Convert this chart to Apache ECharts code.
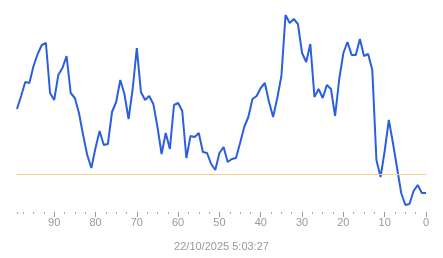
<!DOCTYPE html>
<html>
<head>
<meta charset="utf-8">
<script src="https://cdn.jsdelivr.net/npm/echarts@6/dist/echarts.min.js"></script>
<style>html,body{margin:0;padding:0;background:#fff}#c{width:443px;height:258px}</style>
</head>
<body>
<div id="c"></div>
<script>
// x positions (k = 99 ... 0)
const xValues = [99,98,97,96,95,94,93,92,91,90,89,88,87,86,85,84,83,82,81,80,79,78,77,76,75,74,73,72,71,70,69,68,67,66,65,64,63,62,61,60,59,58,57,56,55,54,53,52,51,50,49,48,47,46,45,44,43,42,41,40,39,38,37,36,35,34,33,32,31,30,29,28,27,26,25,24,23,22,21,20,19,18,17,16,15,14,13,12,11,10,9,8,7,6,5,4,3,2,1,0];
// series values (same order as xValues)
const seriesValues = [51.5,58,65,64.5,73,79,83.5,84.5,59.5,56,68.5,72,78,59.5,57,49.5,38.5,28.5,22,32,40.5,33.5,34,50,55,66,59,46.5,61.5,82,60,56,58,54,42.5,29,39.5,31.5,53.5,54.5,50.5,27,38,37.5,39.5,30,29.5,24,21,29.5,32.5,25,26.5,27,34.5,42.5,47.5,56.5,58,62,64.5,55,47.5,57,68,98.5,94.5,96.5,94,79.5,75,84,57.5,61.5,57,63.5,61.5,48,66.5,79.5,85,78.5,78.5,86.5,78,79,71,26,17.5,30.5,46,34.5,22,9.5,3.5,4,10.5,13.5,9.5,9.5];
const thresholdValue = 19;
const majorTickValues = [0,10,20,30,40,50,60,70,80,90];
const minorTickValues = [2.5,5,7.5,12.5,15,17.5,22.5,25,27.5,32.5,35,37.5,42.5,45,47.5,52.5,55,57.5,62.5,65,67.5,72.5,75,77.5,82.5,85,87.5,92.5,95,97.5,99];
const timestampLabel = '22/10/2025 5:03:27';

const chart = echarts.init(document.getElementById('c'), null, {renderer: 'canvas'});
const data = xValues.map((x, i) => [x, seriesValues[i]]);
chart.setOption({
  animation: false,
  grid: {left: 17, right: 17, top: 12, bottom: 46},
  xAxis: [
    {
      type: 'value', min: 0, max: 99, inverse: true, position: 'bottom',
      axisLine: {show: false}, splitLine: {show: false},
      axisTick: {show: true, length: 2, lineStyle: {color: '#aaa', width: 1}, customValues: minorTickValues},
      axisLabel: {show: false}
    },
    {
      type: 'value', min: 0, max: 99, inverse: true, position: 'bottom',
      axisLine: {show: false}, splitLine: {show: false},
      axisTick: {show: true, length: 5, lineStyle: {color: '#999', width: 1}, customValues: majorTickValues},
      axisLabel: {show: true, color: '#999', fontSize: 11, fontFamily: 'Liberation Sans, Arial, sans-serif', margin: 5, customValues: majorTickValues},
      name: timestampLabel, nameLocation: 'middle', nameGap: 29,
      nameTextStyle: {color: '#999', fontSize: 11, fontFamily: 'Liberation Sans, Arial, sans-serif'}
    }
  ],
  yAxis: {type: 'value', min: 0, max: 100, show: false, splitLine: {show: false}},
  series: [{
    type: 'line', xAxisIndex: 1, data: data, showSymbol: false, symbol: 'none',
    lineStyle: {color: '#2c5fde', width: 2}, itemStyle: {color: '#2c5fde'},
    markLine: {
      silent: true, symbol: 'none', label: {show: false},
      lineStyle: {color: '#f3d08c', width: 1, type: 'solid'},
      data: [{yAxis: thresholdValue}]
    }
  }]
});
</script>
</body>
</html>
